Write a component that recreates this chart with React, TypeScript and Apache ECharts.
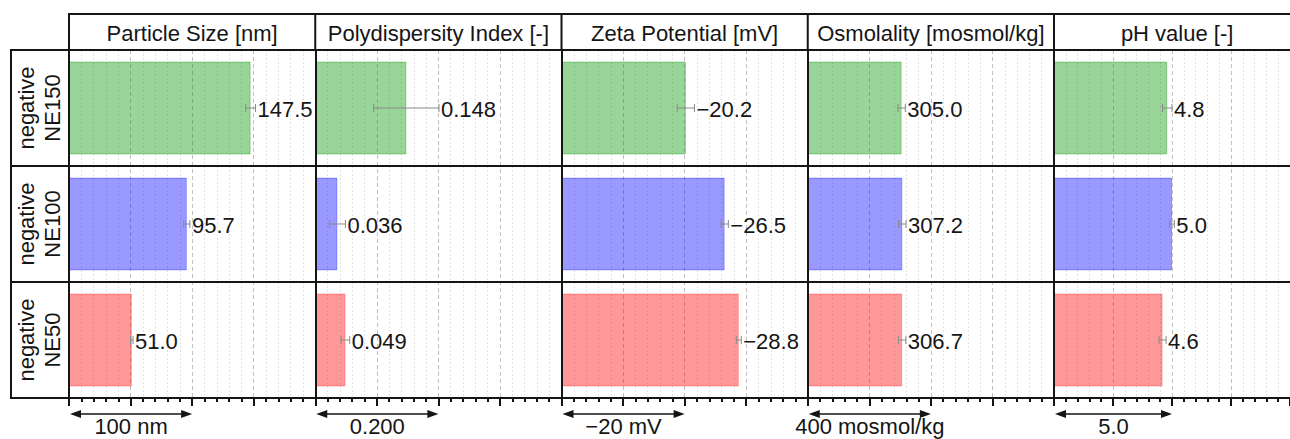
import { useEffect, useRef } from 'react';
import * as echarts from 'echarts';

// ---- data ----
const categories = ['NE150', 'NE100', 'NE50'];
const panelTitles = ['Particle Size [nm]', 'Polydispersity Index [-]', 'Zeta Potential [mV]', 'Osmolality [mosmol/kg]', 'pH value [-]'];
const particleSize = [147.5, 95.7, 51.0];
const particleSizeSd = [4, 2.5, 1];
const pdi = [0.148, 0.036, 0.049];
const pdiSd = [0.053, 0.013, 0.007];
const zeta = [-20.2, -26.5, -28.8];
const zetaSd = [1.4, 0.6, 0.4];
const osmolality = [305.0, 307.2, 306.7];
const osmolalitySd = [12, 12, 12];
const ph = [4.8, 5.0, 4.6];
const phSd = [0.2, 0.1, 0.15];
const axisMin = [0, 0, -40, 0, 0];
const axisMax = [200, 0.4, 0, 800, 10];
const axisInterval = [50, 0.1, 10, 200, 2.5];
const axisInverse = [false, false, true, false, false];
const scaleValues = [100, 0.2, -20, 400, 5];
const scaleLabels = ['100 nm', '0.200', '\u221220 mV', '400 mosmol/kg', '5.0'];
const labelDecimals = [1, 3, 1, 1, 1];

const panelMeans = [particleSize, pdi, zeta, osmolality, ph];
const panelSds = [particleSizeSd, pdiSd, zetaSd, osmolalitySd, phSd];

// ---- styles ----
const FONT = '"Liberation Sans", Arial, Helvetica, sans-serif';
const INK = '#151515';
const rowFill = ['rgba(0,150,0,0.4)', 'rgba(0,0,255,0.4)', 'rgba(255,0,0,0.4)'];
const rowEdge = ['rgba(0,150,0,0.35)', 'rgba(0,0,255,0.3)', 'rgba(255,0,0,0.3)'];
const LEFT0 = 69;
const PANEL_W = 246.25;
const TOP = 50;
const PLOT_H = 348;
const HEADER_TOP = 14;
const LABEL_LEFT = 11;

function fmt(v: number, d: number) {
  return v.toFixed(d).replace('-', '\u2212');
}

export default function App() {
  const ref = useRef<HTMLDivElement>(null);
  useEffect(() => {
    if (!ref.current) return;
    const chart = echarts.init(ref.current, undefined, { renderer: 'svg' });

    const grids: any[] = [];
    const xAxes: any[] = [];
    const yAxes: any[] = [];
    const series: any[] = [];
    const graphics: any[] = [];

    for (let i = 0; i < 5; i++) {
      const left = LEFT0 + i * PANEL_W;
      grids.push({ left, top: TOP, width: PANEL_W, height: PLOT_H, containLabel: false });
      xAxes.push({
        type: 'value',
        gridIndex: i,
        min: axisMin[i],
        max: axisMax[i],
        interval: axisInterval[i],
        inverse: axisInverse[i],
        position: 'bottom',
        z: 1,
        axisLine: { show: true, onZero: false, lineStyle: { color: INK, width: 2 } },
        axisTick: { show: true, inside: false, length: 8, lineStyle: { color: INK, width: 2 } },
        minorTick: { show: true, splitNumber: 5, length: 4, lineStyle: { color: INK, width: 2 } },
        axisLabel: { show: false },
        splitLine: { show: true, lineStyle: { color: '#c2c2c2', width: 1, type: [4, 3] } },
        minorSplitLine: { show: true, lineStyle: { color: '#e2e2e2', width: 1, type: [2, 2] } },
      });
      yAxes.push({
        type: 'category',
        gridIndex: i,
        data: categories,
        inverse: true,
        z: 4,
        axisLine: { show: true, lineStyle: { color: INK, width: 2 } },
        axisTick: i === 0
          ? { show: true, length: LEFT0 - LABEL_LEFT, inside: false, alignWithLabel: false, lineStyle: { color: INK, width: 2 } }
          : { show: false },
        axisLabel: i === 0
          ? {
              show: true,
              rotate: 90,
              margin: 4,
              fontSize: 22,
              lineHeight: 26,
              fontFamily: FONT,
              color: INK,
              formatter: (v: string) => `negative\n${v}`,
            }
          : { show: false },
        splitLine: { show: true, lineStyle: { color: INK, width: 2, type: 'solid' } },
      });

      const means = panelMeans[i];
      const sds = panelSds[i];
      series.push({
        type: 'bar',
        xAxisIndex: i,
        yAxisIndex: i,
        barWidth: '80%',
        z: 2,
        data: means.map((v, k) => ({
          value: v,
          itemStyle: { color: rowFill[k], borderColor: rowEdge[k], borderWidth: 1 },
        })),
      });

      const dec = labelDecimals[i];
      series.push({
        type: 'custom',
        xAxisIndex: i,
        yAxisIndex: i,
        z: 5,
        clip: false,
        encode: { x: 0, y: 1 },
        data: means.map((m, k) => [m, k, sds[k]]),
        renderItem: (params: any, api: any) => {
          const m = api.value(0);
          const k = api.value(1);
          const sd = api.value(2);
          const pa = api.coord([m - sd, k]);
          const pb = api.coord([m + sd, k]);
          const y = pa[1];
          const xl = Math.min(pa[0], pb[0]);
          const xr = Math.max(pa[0], pb[0]);
          const errStyle = { stroke: '#8a8a8a', lineWidth: 1 };
          const text = fmt(m, dec);
          return {
            type: 'group',
            children: [
              { type: 'line', shape: { x1: xl, y1: y, x2: xr, y2: y }, style: errStyle },
              { type: 'line', shape: { x1: xl, y1: y - 4, x2: xl, y2: y + 4 }, style: errStyle },
              { type: 'line', shape: { x1: xr, y1: y - 4, x2: xr, y2: y + 4 }, style: errStyle },
              {
                type: 'text',
                x: xr + 2,
                y: y + 1,
                style: {
                  text,
                  fill: INK,
                  fontSize: 22,
                  fontFamily: FONT,
                  align: 'left',
                  verticalAlign: 'middle',
                  textAlign: 'left',
                  textVerticalAlign: 'middle',
                },
              },
            ],
          };
        },
      });

      const lbl = scaleLabels[i];
      series.push({
        type: 'custom',
        xAxisIndex: i,
        yAxisIndex: i,
        z: 5,
        clip: false,
        encode: { x: 0, y: 1 },
        data: [[scaleValues[i], categories.length - 1]],
        renderItem: (params: any, api: any) => {
          const v = api.value(0);
          const k = api.value(1);
          const p0 = api.coord([0, k]);
          const p1 = api.coord([v, k]);
          const half = api.size([0, 1])[1] / 2;
          const base = p0[1] + half;
          const ay = base + 16;
          const ty = base + 28;
          const x0 = Math.min(p0[0], p1[0]) + 1;
          const x1 = Math.max(p0[0], p1[0]);
          const hl = 11;
          const hw = 4;
          return {
            type: 'group',
            children: [
              { type: 'line', shape: { x1: x0 + 4, y1: ay, x2: x1 - 4, y2: ay }, style: { stroke: INK, lineWidth: 1.5 } },
              { type: 'polygon', shape: { points: [[x0, ay], [x0 + hl, ay - hw], [x0 + hl, ay + hw]] }, style: { fill: INK } },
              { type: 'polygon', shape: { points: [[x1, ay], [x1 - hl, ay - hw], [x1 - hl, ay + hw]] }, style: { fill: INK } },
              {
                type: 'text',
                x: (x0 + x1) / 2,
                y: ty,
                style: {
                  text: lbl,
                  fill: INK,
                  fontSize: 22,
                  fontFamily: FONT,
                  align: 'center',
                  verticalAlign: 'middle',
                  textAlign: 'center',
                  textVerticalAlign: 'middle',
                },
              },
            ],
          };
        },
      });

      // header title
      graphics.push({
        type: 'text',
        x: left + PANEL_W / 2,
        y: (HEADER_TOP + TOP) / 2 + 1,
        z: 10,
        style: {
          text: panelTitles[i],
          fill: INK,
          fontSize: 22,
          fontFamily: FONT,
          align: 'center',
          verticalAlign: 'middle',
          textAlign: 'center',
          textVerticalAlign: 'middle',
        },
      });
      if (i > 0) {
        graphics.push({
          type: 'line',
          z: 10,
          shape: { x1: left, y1: HEADER_TOP, x2: left, y2: TOP },
          style: { stroke: INK, lineWidth: 2 },
        });
      }
    }

    // header frame
    graphics.push({
      type: 'polyline',
      z: 10,
      shape: { points: [[LEFT0, TOP], [LEFT0, HEADER_TOP], [1300, HEADER_TOP]] },
      style: { stroke: INK, lineWidth: 2, fill: 'none' },
    });
    graphics.push({
      type: 'line',
      z: 10,
      shape: { x1: LEFT0, y1: TOP, x2: 1300, y2: TOP },
      style: { stroke: INK, lineWidth: 2 },
    });
    // left label column border
    graphics.push({
      type: 'line',
      z: 10,
      shape: { x1: LABEL_LEFT, y1: TOP - 1, x2: LABEL_LEFT, y2: TOP + PLOT_H + 1 },
      style: { stroke: INK, lineWidth: 2 },
    });

    chart.setOption({
      animation: false,
      backgroundColor: '#ffffff',
      grid: grids,
      xAxis: xAxes,
      yAxis: yAxes,
      series,
      graphic: { elements: graphics },
    });

    return () => chart.dispose();
  }, []);

  return (
    <div
      ref={ref}
      style={{ position: 'fixed', left: 0, top: 0, width: 1290, height: 439, background: '#fff' }}
    />
  );
}
